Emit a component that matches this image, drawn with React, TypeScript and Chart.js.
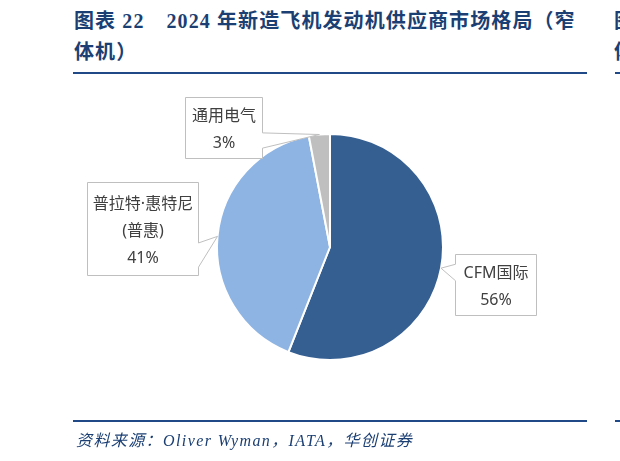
import React, { useEffect, useRef } from 'react';
import { Chart, registerables } from 'chart.js';

Chart.register(...registerables);

const categories = ['CFM国际', '普拉特·惠特尼(普惠)', '通用电气'];
const labelLines = [['CFM国际'], ['普拉特·惠特尼', '(普惠)'], ['通用电气']];
const shares = [56, 41, 3];
const colors = ['#355F91', '#8EB4E3', '#BFBFBF'];

const titleLine1 = '2024 年新造飞机发动机供应商市场格局（窄';
const titleLine2 = '体机）';
const sourceText = '资料来源：Oliver Wyman，IATA，华创证券';

// callout box placement (style): offset of the box centre from the pie centre, size, tail side and base
const callouts = [
  { dx: 165.5, dy: 37.5, w: 81, h: 61, side: 'left', b1: 0.16, b2: 0.43 },
  { dx: -187.5, dy: -18.5, w: 111, h: 93, side: 'right', b1: 0.65, b2: 0.91 },
  { dx: -106.5, dy: -120, w: 77, h: 61, side: 'right', b1: 0.58, b2: 0.83 },
];

const calloutPlugin = {
  id: 'callouts',
  afterDatasetsDraw(chart: any) {
    const ctx = chart.ctx as CanvasRenderingContext2D;
    const meta = chart.getDatasetMeta(0);
    meta.data.forEach((arc: any, i: number) => {
      const { x, y, startAngle, endAngle, outerRadius } = arc.getProps(
        ['x', 'y', 'startAngle', 'endAngle', 'outerRadius'],
        true
      );
      const mid = (startAngle + endAngle) / 2;
      const tx = x + Math.cos(mid) * outerRadius;
      const ty = y + Math.sin(mid) * outerRadius;
      const c = callouts[i];
      const left = Math.round(x + c.dx - c.w / 2) + 0.5;
      const top = Math.round(y + c.dy - c.h / 2) + 0.5;
      const right = left + c.w;
      const bottom = top + c.h;
      ctx.save();
      ctx.beginPath();
      ctx.moveTo(left, top);
      ctx.lineTo(right, top);
      if (c.side === 'right') {
        ctx.lineTo(right, top + c.h * c.b1);
        ctx.lineTo(tx, ty);
        ctx.lineTo(right, top + c.h * c.b2);
      }
      ctx.lineTo(right, bottom);
      ctx.lineTo(left, bottom);
      if (c.side === 'left') {
        ctx.lineTo(left, top + c.h * c.b2);
        ctx.lineTo(tx, ty);
        ctx.lineTo(left, top + c.h * c.b1);
      }
      ctx.closePath();
      ctx.fillStyle = '#FFFFFF';
      ctx.fill();
      ctx.strokeStyle = '#BFBFBF';
      ctx.lineWidth = 1;
      ctx.stroke();

      const lines = [...labelLines[i], `${shares[i]}%`];
      const lh = 27;
      const cx = left + c.w / 2;
      const cy = top + c.h / 2 + 2;
      ctx.fillStyle = '#404040';
      ctx.font = '16px "Noto Sans", "Noto Sans CJK SC", sans-serif';
      ctx.textAlign = 'center';
      ctx.textBaseline = 'middle';
      lines.forEach((t, k) => {
        ctx.fillText(t, cx, cy + (k - (lines.length - 1) / 2) * lh);
      });
      ctx.restore();
    });
  },
};

export default function App() {
  const ref = useRef<HTMLCanvasElement | null>(null);

  useEffect(() => {
    if (!ref.current) return;
    const chart = new Chart(ref.current, {
      type: 'pie',
      data: {
        labels: categories,
        datasets: [
          {
            data: shares,
            backgroundColor: colors,
            borderColor: '#FFFFFF',
            borderWidth: 2,
          },
        ],
      },
      options: {
        responsive: false,
        animation: false,
        layout: { padding: { left: 216, right: 176, top: 133, bottom: 100 } },
        plugins: {
          legend: { display: false },
          tooltip: { enabled: false },
        },
      },
      plugins: [calloutPlugin],
    } as any);
    return () => chart.destroy();
  }, []);

  const blue = '#1B3F73';
  const lineColor = '#1F4A87';
  const serif = '"Liberation Serif", "Noto Sans CJK SC", serif';

  return (
    <div
      style={{
        position: 'absolute',
        left: 0,
        top: 0,
        width: 620,
        height: 461,
        overflow: 'hidden',
        background: '#FFFFFF',
      }}
    >
      <div
        style={{
          position: 'absolute',
          left: 74,
          top: 6,
          width: 540,
          fontFamily: serif,
          fontWeight: 700,
          fontSize: 20,
          lineHeight: '31px',
          color: blue,
          whiteSpace: 'nowrap',
          letterSpacing: 1.1,
        }}
      >
        <span>图表 22</span>
        <span style={{ marginLeft: 22 }}>{titleLine1}</span>
        <br />
        <span>{titleLine2}</span>
      </div>
      <div
        style={{
          position: 'absolute',
          left: 614,
          top: 6,
          fontFamily: serif,
          fontWeight: 700,
          fontSize: 20,
          lineHeight: '31px',
          color: blue,
          whiteSpace: 'nowrap',
        }}
      >
        图表
        <br />
        体机
      </div>
      <div style={{ position: 'absolute', left: 73, top: 72, width: 514, height: 2, background: lineColor }} />
      <div style={{ position: 'absolute', left: 615, top: 72, width: 10, height: 2, background: lineColor }} />
      <canvas
        ref={ref}
        width={620}
        height={461}
        style={{ position: 'absolute', left: 0, top: 0, width: 620, height: 461 }}
      />
      <div style={{ position: 'absolute', left: 73, top: 420, width: 514, height: 2, background: lineColor }} />
      <div style={{ position: 'absolute', left: 615, top: 420, width: 10, height: 2, background: lineColor }} />
      <div
        style={{
          position: 'absolute',
          left: 76,
          top: 430,
          fontFamily: serif,
          fontStyle: 'italic',
          fontSize: 16,
          lineHeight: '22px',
          color: blue,
          whiteSpace: 'nowrap',
          letterSpacing: 1.4,
        }}
      >
        {sourceText}
      </div>
    </div>
  );
}
